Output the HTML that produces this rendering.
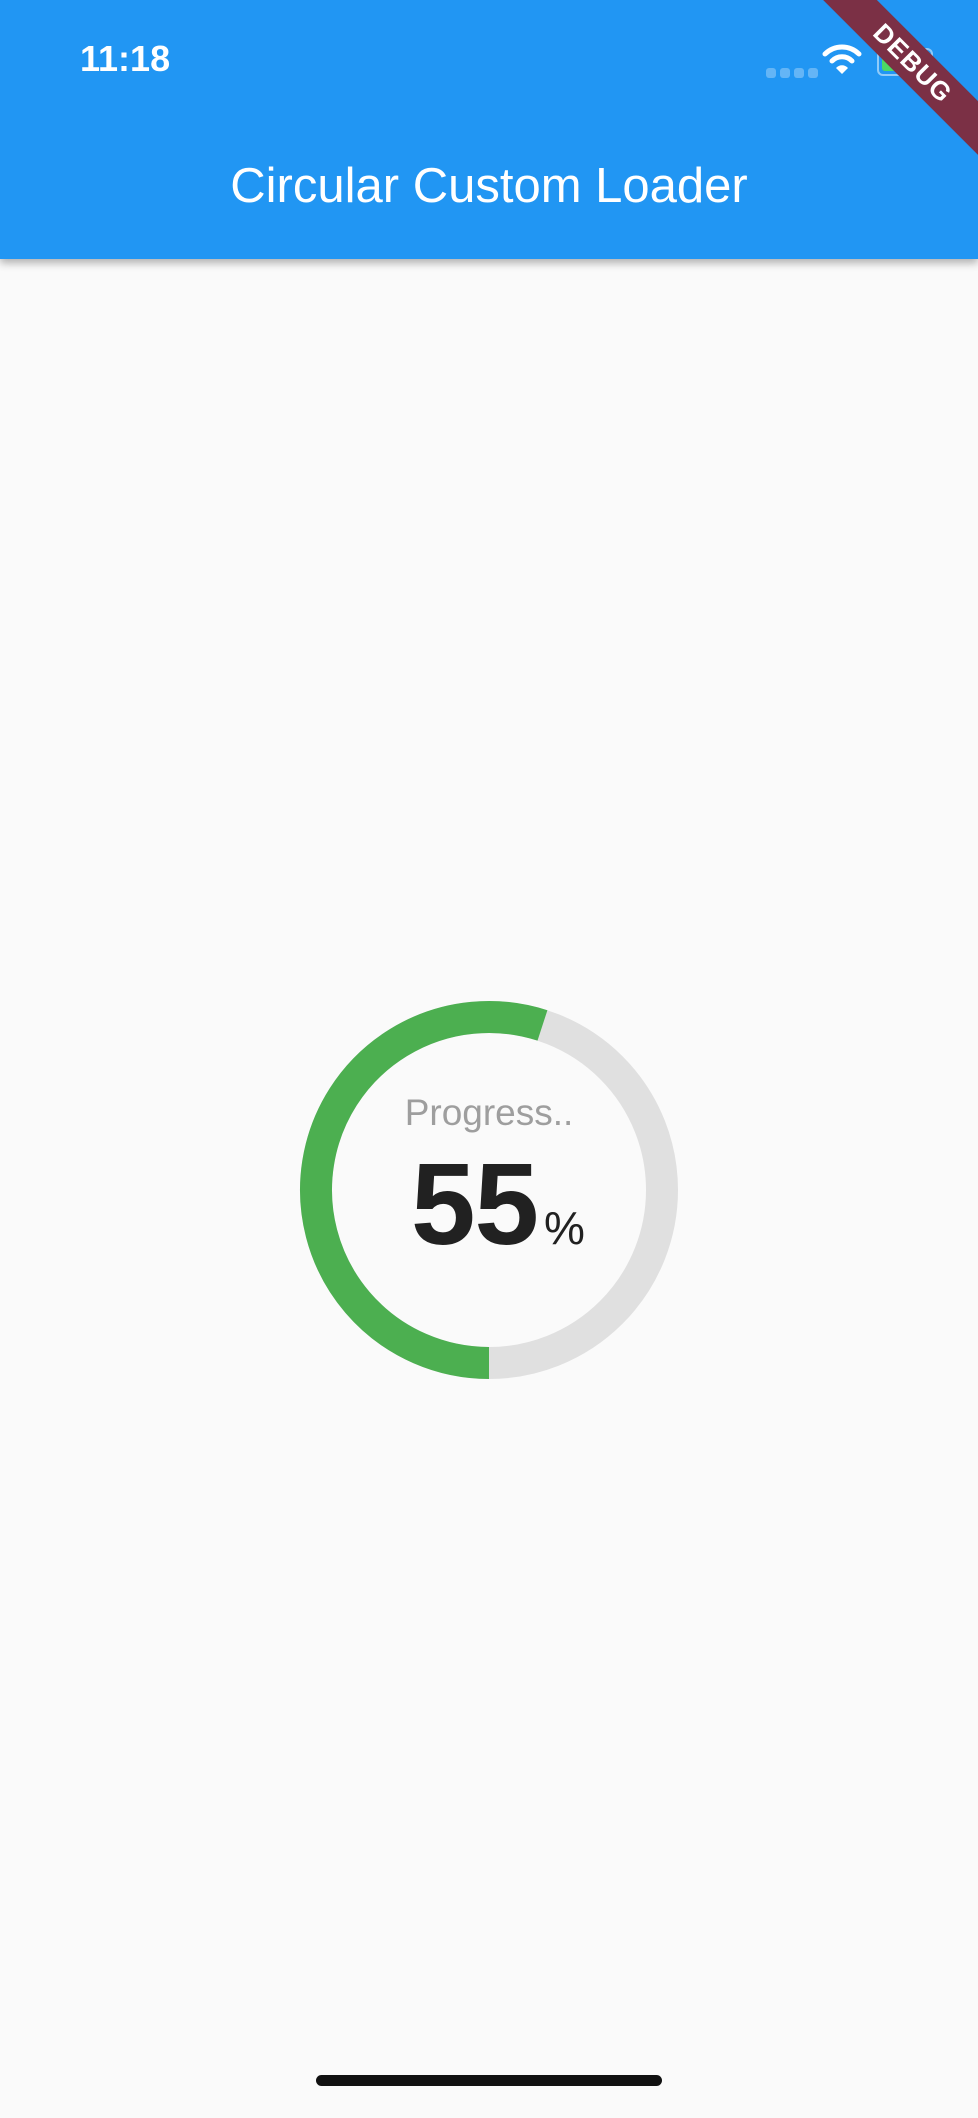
<!DOCTYPE html>
<html><head><meta charset="utf-8">
<style>
html,body{margin:0;padding:0;}
body{width:978px;height:2118px;background:#fafafa;position:relative;overflow:hidden;font-family:"Liberation Sans",sans-serif;}
#appbar{position:absolute;left:0;top:0;width:978px;height:259px;background:#2196f3;box-shadow:0 4px 8px rgba(0,0,0,0.3);overflow:hidden;}
.abs{position:absolute;}
</style></head>
<body>
<div id="appbar">
  <div class="abs" style="left:80px;top:38px;color:#fff;font-size:36px;font-weight:bold;">11:18</div>
  <div class="abs" style="left:766px;top:65px;">
    <span style="display:inline-block;width:10px;height:10px;border-radius:3px;background:#64b5f6;margin-right:4px"></span><span style="display:inline-block;width:10px;height:10px;border-radius:3px;background:#64b5f6;margin-right:4px"></span><span style="display:inline-block;width:10px;height:10px;border-radius:3px;background:#64b5f6;margin-right:4px"></span><span style="display:inline-block;width:10px;height:10px;border-radius:3px;background:#64b5f6"></span>
  </div>
  <svg class="abs" style="left:822px;top:42px" width="40" height="34" viewBox="0 0 40 34">
    <path d="M3 12 A24 24 0 0 1 37 12" stroke="#fff" stroke-width="5" fill="none" stroke-linecap="round"/>
    <path d="M10 19 A14 14 0 0 1 30 19" stroke="#fff" stroke-width="5" fill="none" stroke-linecap="round"/>
    <path d="M14 26 L20 32 L26 26 A8 8 0 0 0 14 26Z" fill="#fff"/>
  </svg>
  <div class="abs" style="left:877px;top:48px;width:52px;height:24px;border:2px solid rgba(255,255,255,0.5);border-radius:6px;">
    <div style="position:absolute;left:3px;top:3px;width:28px;height:18px;background:#4cd964;border-radius:3px"></div>
  </div>
  <div class="abs" style="left:783px;top:44px;width:260px;height:38px;background:#7b3045;transform:rotate(45deg);transform-origin:center;color:#fff;font-weight:bold;font-size:26px;text-align:center;line-height:38px;letter-spacing:1px">DEBUG</div>
  <div class="abs" style="left:0;width:978px;top:158px;text-align:center;color:#fff;font-size:49px;">Circular Custom Loader</div>
</div>

<svg class="abs" style="left:0;top:0" width="978" height="2118">
  <circle cx="489" cy="1190" r="173" fill="none" stroke="#e0e0e0" stroke-width="32"/>
  <path id="arc" fill="none" stroke="#4caf50" stroke-width="32"/>
</svg>
<script>
const progressValue = [55];
const p = progressValue[0]/100;
const cx=489, cy=1190, r=173;
const a0 = Math.PI/2, a1 = Math.PI/2 + p*2*Math.PI;
const x0=cx+r*Math.cos(a0), y0=cy+r*Math.sin(a0);
const x1=cx+r*Math.cos(a1), y1=cy+r*Math.sin(a1);
const large = p>0.5?1:0;
document.getElementById('arc').setAttribute('d',`M${x0} ${y0} A${r} ${r} 0 ${large} 1 ${x1} ${y1}`);
</script>

<div class="abs" style="left:0;width:978px;top:1092px;text-align:center;color:#9e9e9e;font-size:37px;">Progress..</div>
<div class="abs" style="left:411px;top:1139px;color:#212121;font-size:116px;font-weight:900;letter-spacing:-1px;line-height:130px;white-space:nowrap">55<span style="font-size:46px;font-weight:normal;letter-spacing:0;margin-left:6px">%</span></div>

<div class="abs" style="left:316px;top:2075px;width:346px;height:11px;border-radius:6px;background:#111"></div>
</body></html>
